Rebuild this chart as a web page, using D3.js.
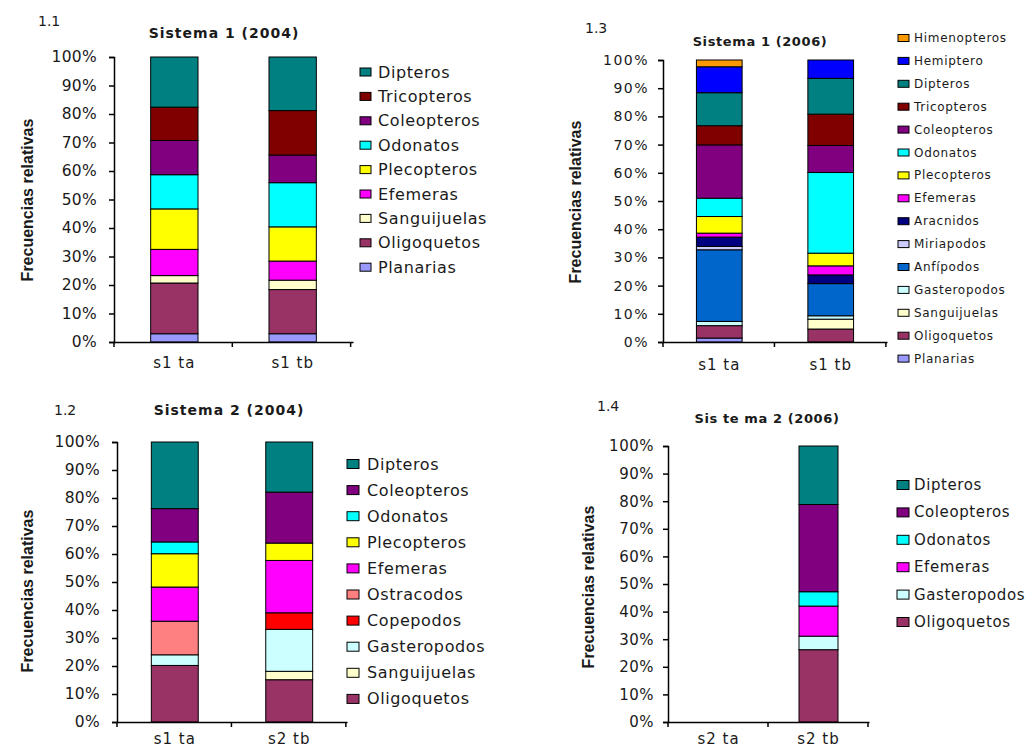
<!DOCTYPE html>
<html>
<head>
<meta charset="utf-8">
<script src="https://cdn.jsdelivr.net/npm/d3@7"></script>
<style>
  body { margin: 0; background: #fff; }
  svg text { fill: #1a1a1a; }
</style>
</head>
<body>
<svg id="chart" width="1031" height="749"></svg>
<script>
// ---- data (percent, stacked bottom -> top) ----

// 1.1 Sistema 1 (2004)
const cats11 = ["s1 ta", "s1 tb"];
const taxa11 = ["Planarias", "Oligoquetos", "Sanguijuelas", "Efemeras", "Plecopteros", "Odonatos", "Coleopteros", "Tricopteros", "Dipteros"];
const vals11_ta = [2.9, 17.8, 2.6, 9.2, 14.2, 12.0, 12.0, 11.7, 17.6];
const vals11_tb = [2.9, 15.5, 3.3, 6.7, 12.0, 15.5, 9.7, 15.6, 18.8];

// 1.2 Sistema 2 (2004)
const cats12 = ["s1 ta", "s2 tb"];
const taxa12 = ["Oligoquetos", "Sanguijuelas", "Gasteropodos", "Copepodos", "Ostracodos", "Efemeras", "Plecopteros", "Odonatos", "Coleopteros", "Dipteros"];
const vals12_ta = [20.2, 0, 3.8, 0, 12.0, 12.2, 11.9, 4.2, 11.9, 23.8];
const vals12_tb = [15.1, 3.0, 15.0, 5.9, 0, 18.7, 6.2, 0, 18.2, 17.9];

// 1.3 Sistema 1 (2006)
const cats13 = ["s1 ta", "s1 tb"];
const taxa13 = ["Planarias", "Oligoquetos", "Sanguijuelas", "Gasteropodos", "Anfípodos", "Miriapodos", "Aracnidos", "Efemeras", "Plecopteros", "Odonatos", "Coleopteros", "Tricopteros", "Dipteros", "Hemiptero", "Himenopteros"];
const vals13_ta = [1.4, 4.4, 0, 1.5, 25.4, 1.2, 3.3, 1.4, 5.9, 6.5, 18.9, 6.8, 11.7, 9.2, 2.4];
const vals13_tb = [0, 4.6, 3.5, 1.2, 11.4, 0, 3.1, 3.2, 4.5, 28.6, 9.6, 11.1, 12.7, 6.5, 0];

// 1.4 Sistema 2 (2006)
const cats14 = ["s2 ta", "s2 tb"];
const taxa14 = ["Oligoquetos", "Gasteropodos", "Efemeras", "Odonatos", "Coleopteros", "Dipteros"];
const vals14_ta = [0, 0, 0, 0, 0, 0];
const vals14_tb = [26.2, 4.9, 10.9, 5.2, 31.6, 21.2];

const yTicks = [0, 10, 20, 30, 40, 50, 60, 70, 80, 90, 100];

const taxonColor = {
  "Dipteros": "#008080", "Tricopteros": "#800000", "Coleopteros": "#800080",
  "Odonatos": "#00ffff", "Plecopteros": "#ffff00", "Efemeras": "#ff00ff",
  "Sanguijuelas": "#ffffcc", "Oligoquetos": "#993366", "Planarias": "#9999ff",
  "Himenopteros": "#ff9900", "Hemiptero": "#0000ff", "Aracnidos": "#000080",
  "Miriapodos": "#ccccff", "Anfípodos": "#0066cc", "Gasteropodos": "#ccffff",
  "Ostracodos": "#ff8080", "Copepodos": "#ff0000"
};

// ---- panels: layout only ----
const panels = [
  { num: "1.1", title: "Sistema 1 (2004)", cats: cats11, taxa: taxa11, vals: [vals11_ta, vals11_tb],
    x0: 114, x1: 353, y0: 57, y1: 342, pi: 0.6, po: 0.31,
    numPos: [38, 26], titlePos: [224, 38], ylab: [27, 200], xlabY: 368,
    leg: { sx: 360, tx: 378, y: 72, dy: 24.4, w: 11, h: 8, fs: 16, ls: 0.6 },
    tickFs: 15.5, tickLs: 0.3, titleFs: 14, titleLs: 1, xFs: 15, xLs: 1, ylabFs: 16 },
  { num: "1.2", title: "Sistema 2 (2004)", cats: cats12, taxa: taxa12, vals: [vals12_ta, vals12_tb],
    x0: 117, x1: 347, y0: 442, y1: 722, pi: 0.59, po: 0.3,
    numPos: [54, 415], titlePos: [229, 415], ylab: [27, 591], xlabY: 744,
    leg: { sx: 347, tx: 367, y: 464, dy: 26.1, w: 12, h: 9, fs: 16, ls: 0.6 },
    tickFs: 15.5, tickLs: 0.3, titleFs: 14, titleLs: 1, xFs: 15, xLs: 1, ylabFs: 16 },
  { num: "1.3", title: "Sistema 1 (2006)", cats: cats13, taxa: taxa13, vals: [vals13_ta, vals13_tb],
    x0: 663, x1: 887, y0: 60, y1: 342, pi: 0.59, po: 0.3,
    numPos: [585, 33], titlePos: [760, 46], ylab: [575, 202], xlabY: 370,
    leg: { sx: 898, tx: 914, y: 38, dy: 22.9, w: 11, h: 7, fs: 12, ls: 0.7 },
    tickFs: 14, tickLs: 1.5, titleFs: 13, titleLs: 0.6, xFs: 15, xLs: 1, ylabFs: 16 },
  { num: "1.4", title: "Sis te ma 2 (2006)", cats: cats14, taxa: taxa14, vals: [vals14_ta, vals14_tb],
    x0: 668, x1: 869, y0: 446, y1: 722, pi: 0.61, po: 0.31,
    numPos: [597, 411], titlePos: [767, 423], ylab: [588, 587], xlabY: 744,
    leg: { sx: 897, tx: 914, y: 485, dy: 27.4, w: 12, h: 9, fs: 15, ls: 0.6 },
    tickFs: 15, tickLs: 0.5, titleFs: 13, titleLs: 0.6, xFs: 15, xLs: 1, ylabFs: 16 }
];

const svg = d3.select("#chart");
const FONT = "'DejaVu Sans', Verdana, sans-serif";

panels.forEach((p) => drawPanel(p));

function drawPanel(p) {
  const g = svg.append("g");

  const x = d3.scaleBand()
    .domain(p.cats)
    .range([p.x0, p.x1])
    .paddingInner(p.pi)
    .paddingOuter(p.po);

  const y = d3.scaleLinear().domain([0, 100]).range([p.y1, p.y0]);

  // rows for stacking
  const rows = p.cats.map((c, i) => {
    const r = { cat: c };
    p.taxa.forEach((t, j) => { r[t] = p.vals[i][j]; });
    return r;
  });
  const series = d3.stack().keys(p.taxa)(rows);

  // bars
  series.forEach((s) => {
    g.selectAll(null)
      .data(s.filter((d) => d[1] - d[0] > 0))
      .enter()
      .append("rect")
      .attr("x", (d) => x(d.data.cat))
      .attr("width", x.bandwidth())
      .attr("y", (d) => y(d[1]))
      .attr("height", (d) => y(d[0]) - y(d[1]))
      .attr("fill", taxonColor[s.key])
      .attr("stroke", "#000")
      .attr("stroke-width", 1);
  });

  // y axis
  const ya = g.append("g")
    .attr("transform", `translate(${p.x0},0)`)
    .call(d3.axisLeft(y).tickValues(yTicks).tickFormat((d) => d + "%").tickSize(5).tickPadding(p.x0 > 600 ? 9 : 12));
  ya.select(".domain").attr("stroke", "#000").attr("stroke-width", 1.5);
  ya.selectAll(".tick line").attr("stroke", "#000").attr("stroke-width", 1.5);
  ya.selectAll(".tick text")
    .attr("font-family", FONT)
    .attr("font-size", p.tickFs)
    .attr("letter-spacing", p.tickLs)
    .attr("fill", "#1a1a1a");

  // x axis: line + ticks at category boundaries
  const xa = g.append("g")
    .attr("transform", `translate(0,${p.y1})`)
    .call(d3.axisBottom(x).tickSize(0).tickPadding(0));
  xa.select(".domain").attr("stroke", "#000").attr("stroke-width", 1.5);
  xa.selectAll(".tick text").remove();

  const step = x.step();
  const bounds = [p.x0].concat(p.cats.map((c) => x(c) - step * p.po + step));
  g.selectAll(null)
    .data(bounds)
    .enter()
    .append("line")
    .attr("x1", (d) => d).attr("x2", (d) => d)
    .attr("y1", p.y1).attr("y2", p.y1 + 5)
    .attr("stroke", "#000").attr("stroke-width", 1.5);

  g.selectAll(null)
    .data(p.cats)
    .enter()
    .append("text")
    .attr("x", (d) => x(d) + x.bandwidth() / 2)
    .attr("y", p.xlabY)
    .attr("text-anchor", "middle")
    .attr("font-family", FONT)
    .attr("font-size", p.xFs)
    .attr("letter-spacing", p.xLs)
    .text((d) => d);

  // title + panel number
  g.append("text")
    .attr("x", p.titlePos[0]).attr("y", p.titlePos[1])
    .attr("text-anchor", "middle")
    .attr("font-family", FONT)
    .attr("font-weight", "bold")
    .attr("font-size", p.titleFs)
    .attr("letter-spacing", p.titleLs)
    .text(p.title);

  g.append("text")
    .attr("x", p.numPos[0]).attr("y", p.numPos[1])
    .attr("font-family", FONT)
    .attr("font-size", 14)
    .text(p.num);

  // y label
  g.append("text")
    .attr("transform", `translate(${p.ylab[0]},${p.ylab[1]}) rotate(-90)`)
    .attr("text-anchor", "middle")
    .attr("dominant-baseline", "central")
    .attr("font-family", "'Liberation Sans Narrow', 'Arial Narrow', 'Liberation Sans', sans-serif")
    .attr("font-weight", "bold")
    .attr("font-size", p.ylabFs)
    .text("Frecuencias relativas");

  // legend, top item = top of stack
  const legTaxa = p.taxa.slice().reverse();
  const lg = g.append("g");
  const items = lg.selectAll(null)
    .data(legTaxa)
    .enter()
    .append("g")
    .attr("transform", (d, i) => `translate(0,${p.leg.y + i * p.leg.dy})`);
  items.append("rect")
    .attr("x", p.leg.sx)
    .attr("y", -p.leg.h / 2)
    .attr("width", p.leg.w)
    .attr("height", p.leg.h)
    .attr("fill", (d) => taxonColor[d])
    .attr("stroke", "#000")
    .attr("stroke-width", 1);
  items.append("text")
    .attr("x", p.leg.tx)
    .attr("y", 0)
    .attr("dominant-baseline", "central")
    .attr("font-family", FONT)
    .attr("font-size", p.leg.fs)
    .attr("letter-spacing", p.leg.ls)
    .text((d) => d);
}
</script>
</body>
</html>
